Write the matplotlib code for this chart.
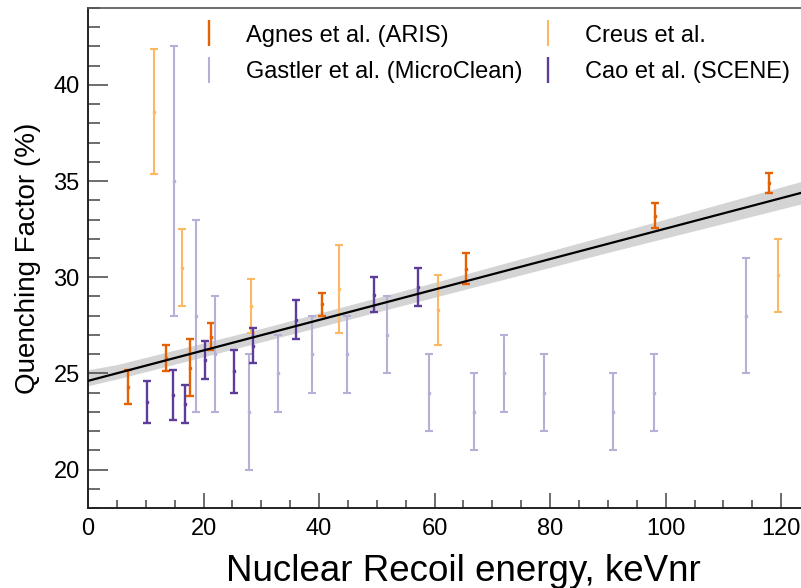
import numpy as np
import matplotlib
matplotlib.use("Agg")
import matplotlib.pyplot as plt
from matplotlib.ticker import MultipleLocator
from matplotlib.lines import Line2D

plt.rcParams['font.family'] = ['Liberation Sans', 'DejaVu Sans']

# ---- data: nuclear recoil energy (keVnr), quenching factor (%) and error ----
agnes_energy = [6.9, 13.5, 17.6, 21.3, 40.5, 65.4, 98.1, 117.9]
agnes_qf = [24.3, 25.8, 25.3, 26.9, 28.6, 30.45, 33.2, 34.9]
agnes_err = [0.9, 0.7, 1.5, 0.7, 0.6, 0.8, 0.65, 0.5]

creus_energy = [11.4, 16.2, 28.3, 43.4, 60.5, 119.5]
creus_qf = [38.6, 30.5, 28.5, 29.4, 28.3, 30.1]
creus_err = [3.25, 2.0, 1.4, 2.3, 1.8, 1.9]

gastler_energy = [14.9, 18.7, 22.0, 27.9, 32.9, 38.8, 44.8, 51.7, 59.0,
                  66.8, 72.0, 79.0, 90.8, 97.9, 113.9]
gastler_qf = [35, 28, 26, 23, 25, 26, 26, 27, 24, 23, 25, 24, 23, 24, 28]
gastler_err = [7, 5, 3, 3, 2, 2, 2, 2, 2, 2, 2, 2, 2, 2, 3]

cao_energy = [10.2, 14.7, 16.8, 20.3, 25.2, 28.5, 36.0, 49.5, 57.2]
cao_qf = [23.5, 23.9, 23.4, 25.7, 25.1, 26.45, 27.8, 29.1, 29.5]
cao_err = [1.1, 1.3, 1.0, 1.0, 1.1, 0.9, 1.0, 0.9, 1.0]

# linear fit and its uncertainty band
fit_intercept = 24.61
fit_slope = 0.0792
band_energy = [0, 5, 30, 60, 90, 130]
band_up = [0.58, 0.45, 0.35, 0.37, 0.45, 0.62]
band_down = [0.25, 0.30, 0.35, 0.40, 0.45, 0.60]

series = [
    ("Agnes et al. (ARIS)", agnes_energy, agnes_qf, agnes_err, "#e66101", 1.7),
    ("Gastler et al. (MicroClean)", gastler_energy, gastler_qf, gastler_err, "#b6b0d6", 1.5),
    ("Creus et al.", creus_energy, creus_qf, creus_err, "#fdb863", 1.5),
    ("Cao et al. (SCENE)", cao_energy, cao_qf, cao_err, "#5e3c99", 1.7),
]

fig = plt.figure(figsize=(8.01, 5.88), dpi=100)
ax = fig.add_axes([88 / 801, 80 / 588, 751 / 801, 500 / 588])

# fit band and line
e_grid = np.linspace(0, 130, 400)
fit_line = fit_intercept + fit_slope * e_grid
upper = fit_line + np.interp(e_grid, band_energy, band_up)
lower = fit_line - np.interp(e_grid, band_energy, band_down)
ax.fill_between(e_grid, lower, upper, color="#d4d4d4", lw=0, zorder=1)
ax.plot(e_grid, fit_line, color="black", lw=1.6, zorder=4)

handles = []
for label, e, q, err, col, lw in series:
    ax.errorbar(e, q, yerr=err, fmt="s", ms=1.8, color=col, ecolor=col,
                elinewidth=lw, capsize=3.2, capthick=lw, zorder=3)
    handles.append(Line2D([], [], ls="none", marker="|", ms=19, mew=lw,
                          color=col, label=label))

ax.set_xlim(0, 130)
ax.set_ylim(18, 44)

ax.xaxis.set_major_locator(MultipleLocator(20))
ax.xaxis.set_minor_locator(MultipleLocator(5))
ax.yaxis.set_major_locator(MultipleLocator(5))
ax.yaxis.set_minor_locator(MultipleLocator(1))

ax.tick_params(axis="both", which="both", direction="in", color="#444444",
               width=1.1, top=False, right=False)
ax.tick_params(axis="y", which="major", length=14.5, labelsize=17, pad=6)
ax.tick_params(axis="y", which="minor", length=8.5)
ax.tick_params(axis="x", which="major", length=10.8, labelsize=17, pad=7)
ax.tick_params(axis="x", which="minor", length=5.8)

for side in ("left", "bottom"):
    ax.spines[side].set_linewidth(1.4)
    ax.spines[side].set_color("#222222")
ax.spines["top"].set_linewidth(1.2)
ax.spines["top"].set_color("#555555")
ax.spines["right"].set_visible(False)

ax.set_xlabel("Nuclear Recoil energy, keVnr", fontsize=26.5, labelpad=10)
ax.set_ylabel("Quenching Factor (%)", fontsize=20, labelpad=9)

leg = ax.legend(handles=handles, ncol=2, frameon=False, fontsize=17,
                loc="upper left", bbox_to_anchor=(185 / 801, 1 - 8 / 588),
                bbox_transform=fig.transFigure, handlelength=0.6,
                handletextpad=1.3, columnspacing=0.75, labelspacing=0.62,
                borderaxespad=0.3)

fig.savefig("out.png", dpi=100)
